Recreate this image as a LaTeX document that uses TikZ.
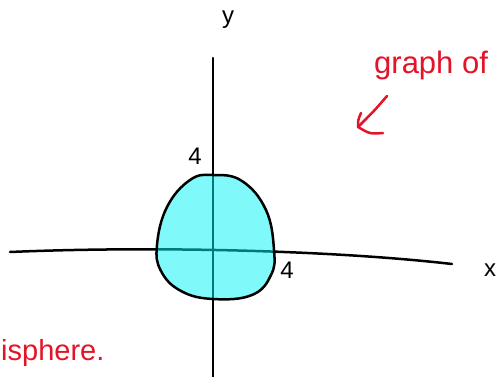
\documentclass[tikz,border=0pt]{standalone}
\usepackage{fontspec}
\setmainfont{Liberation Sans}
\begin{document}
\begin{tikzpicture}[x=1pt,y=-1pt,
  axis/.style={line width=2.5pt,line cap=round,black},
  ink/.style={line width=2.5pt,line cap=round,line join=round},
  redink/.style={ink,draw={rgb,255:red,228;green,20;blue,40}},
  redtext/.style={text={rgb,255:red,228;green,20;blue,40},inner sep=0pt,anchor=base west},
  blacktext/.style={font=\fontsize{24}{24}\selectfont,inner sep=0pt}]
\useasboundingbox (0,0) rectangle (498,377);
\clip (0,0) rectangle (498,377);
\fill[white] (0,0) rectangle (498,377);
% axes
\coordinate (xl) at (10,252);
\coordinate (xr) at (452,264);
\coordinate (yt) at (213,58);
\coordinate (yb) at (213,377);
\draw[axis] (xl) .. controls (150,246) and (330,250) .. (xr);
\draw[axis] (yt) -- (yb);
% filled blob
\fill[fill={rgb,255:red,0;green,245;blue,245},opacity=0.5]
  plot[smooth cycle,tension=0.7] coordinates {(213,175) (242,181) (266,210) (274,250) (271,275) (252,295) (213,299) (181,291) (161,271) (157,245) (167,207) (190,180)};
\draw[ink] plot[smooth cycle,tension=0.7] coordinates {(213,175) (242,181) (266,210) (274,250) (271,275) (252,295) (213,299) (181,291) (161,271) (157,245) (167,207) (190,180)};
% labels
\node[blacktext] (ly) at (228,20) {y};
\node[blacktext] (lx) at (490,270) {x};
\node[blacktext] (l4a) at (195,156) {4};
\node[blacktext] (l4b) at (287,270) {4};
% red annotations
\node[redtext,font=\fontsize{31}{31}\selectfont] (g) at (374,74) {graph of};
\node[redtext,font=\fontsize{29}{29}\selectfont] (h) at (1,360) {isphere.};
\coordinate (as) at (387,96);
\coordinate (ae) at (358,127);
\coordinate (h1) at (361,113);
\coordinate (h2) at (383,133);
\draw[redink] (as) .. controls (375,110) .. (ae);
\draw[redink] (h1) .. controls (358,120) .. (ae) .. controls (370,134) .. (h2);
\end{tikzpicture}
\end{document}
